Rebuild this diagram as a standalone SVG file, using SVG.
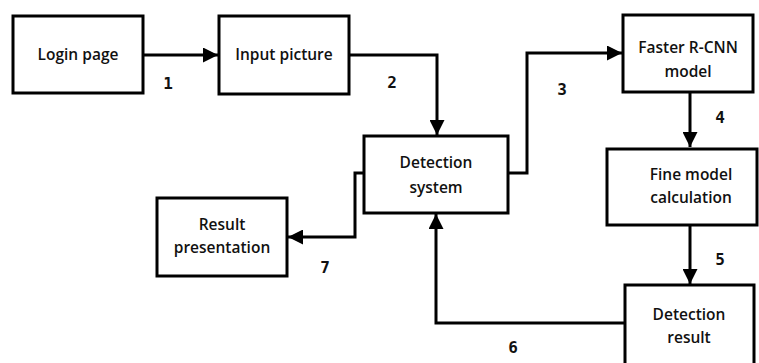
<svg xmlns="http://www.w3.org/2000/svg" width="759" height="363" viewBox="0 0 759 363">
<style>
.box{fill:#fff;stroke:#000;stroke-width:3}
.t{font-family:"Open Sans","Liberation Sans",sans-serif;font-weight:600;font-size:15.5px;fill:#111;text-anchor:middle}
.n{font-family:"DejaVu Sans Mono","Liberation Mono",monospace;font-weight:bold;font-size:16px;fill:#111;text-anchor:middle}
.c{fill:none;stroke:#000;stroke-width:3}
</style>
<defs>
<marker id="ah" viewBox="0 0 10 10" refX="10" refY="5" markerWidth="5.5" markerHeight="5" markerUnits="strokeWidth" orient="auto">
<path d="M0,0 L10,5 L0,10 z" fill="#000"/>
</marker>
</defs>
<rect width="759" height="363" fill="#fff"/>
<g id="connectors">
<path class="c" d="M143,55 H218" marker-end="url(#ah)"/>
<path class="c" d="M349,55 H437 V135" marker-end="url(#ah)"/>
<path class="c" d="M508,173 H527 V53 H622" marker-end="url(#ah)"/>
<path class="c" d="M690,92 V147" marker-end="url(#ah)"/>
<path class="c" d="M690,225 V284" marker-end="url(#ah)"/>
<path class="c" d="M625,323 H436 V214" marker-end="url(#ah)"/>
<path class="c" d="M364,173 H355 V237 H288" marker-end="url(#ah)"/>
</g>
<g id="labels">
<text class="n" x="168" y="89">1</text>
<text class="n" x="392" y="88">2</text>
<text class="n" x="562" y="95">3</text>
<text class="n" x="720" y="123">4</text>
<text class="n" x="720" y="265">5</text>
<text class="n" x="513" y="353">6</text>
<text class="n" x="325" y="273">7</text>
</g>
<g id="login"><rect class="box" x="13" y="16" width="130" height="77"/><text class="t" x="78" y="60">Login page</text></g>
<g id="input"><rect class="box" x="219" y="16" width="130" height="78"/><text class="t" x="284" y="60">Input picture</text></g>
<g id="detection"><rect class="box" x="364" y="136" width="144" height="77"/><text class="t" x="436" y="168">Detection</text><text class="t" x="436" y="193">system</text></g>
<g id="faster"><rect class="box" x="623" y="15" width="130" height="77"/><text class="t" x="688" y="53">Faster R-CNN</text><text class="t" x="688" y="77">model</text></g>
<g id="fine"><rect class="box" x="607" y="149" width="150" height="76"/><text class="t" x="691" y="180">Fine model</text><text class="t" x="691" y="203">calculation</text></g>
<g id="result"><rect class="box" x="625" y="285" width="129" height="82"/><text class="t" x="689" y="320">Detection</text><text class="t" x="689" y="343">result</text></g>
<g id="presentation"><rect class="box" x="157" y="198" width="130" height="78"/><text class="t" x="222" y="230">Result</text><text class="t" x="222" y="253">presentation</text></g>
</svg>
